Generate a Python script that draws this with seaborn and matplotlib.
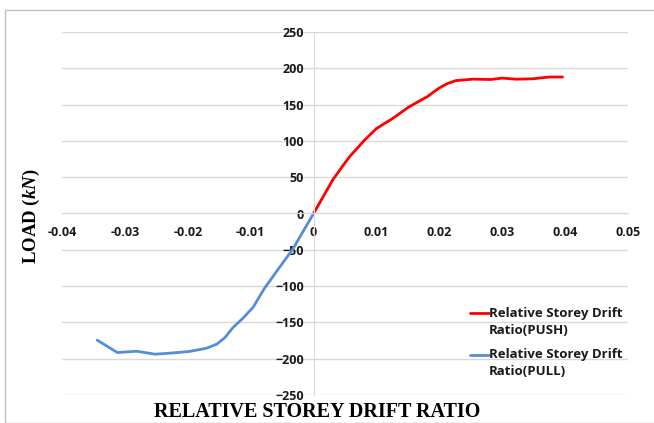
import pandas as pd
import numpy as np
import seaborn as sns
import matplotlib.pyplot as plt
from matplotlib.patches import Rectangle
from matplotlib.legend_handler import HandlerLine2D

# Push curve (drift ratio, load kN)
push_drift = [0.0, 0.0031, 0.0057, 0.0081, 0.0100, 0.0126, 0.0152, 0.0181,
              0.0200, 0.0213, 0.0226, 0.0253, 0.0282, 0.0300,
              0.0322, 0.0348, 0.0375, 0.0396]
push_load = [0, 47, 78, 101, 117, 131, 147, 161, 173, 179, 183, 185,
             184.6, 186.5, 185, 185.5, 188, 188]

# Pull curve
pull_drift = [0.0, -0.0033, -0.0054, -0.0078, -0.0096, -0.0112, -0.0128, -0.0141,
              -0.0154, -0.0170, -0.0197, -0.0223, -0.0252, -0.0281, -0.0312, -0.0344]
pull_load = [0, -49, -74, -103, -129, -144, -157, -171, -180, -185.5, -190, -192,
             -193.8, -189.7, -191.5, -174.5]

labels = ['Relative Storey Drift\nRatio(PUSH)', 'Relative Storey Drift\nRatio(PULL)']

df = pd.concat([
    pd.DataFrame({'drift': push_drift, 'load': push_load, 'series': labels[0]}),
    pd.DataFrame({'drift': pull_drift, 'load': pull_load, 'series': labels[1]}),
])

sns.set_style("white")
sans = ['Open Sans', 'DejaVu Sans']
plt.rcParams['font.family'] = sans
plt.rcParams['font.weight'] = 'bold'
plt.rcParams['text.color'] = 'black'
plt.rcParams['mathtext.fontset'] = 'custom'
plt.rcParams['mathtext.rm'] = 'Liberation Serif:bold'
plt.rcParams['mathtext.it'] = 'Liberation Serif:italic:bold'
plt.rcParams['mathtext.bf'] = 'Liberation Serif:bold'

fig = plt.figure(figsize=(6.54, 4.23), dpi=100)
ax = fig.add_axes([62/654, 1-395/423, (628-62)/654, (395-32)/423])

sns.lineplot(data=df, x='drift', y='load', hue='series', sort=False, ax=ax,
             palette=['#ff0000', '#558ed5'], linewidth=2, legend=False)

ax.set_xlim(-0.04, 0.05)
ax.set_ylim(-250, 250)
ax.set_xticks(np.arange(-0.04, 0.0501, 0.01))
ax.set_xticklabels(['-0.04', '-0.03', '-0.02', '-0.01', '0', '0.01', '0.02', '0.03', '0.04', '0.05'])
ax.set_yticks(np.arange(-250, 251, 50))
ax.yaxis.grid(True, color='#d9d9d9', linewidth=1)
ax.set_axisbelow(True)

for s in ['top', 'right']:
    ax.spines[s].set_visible(False)
ax.spines['left'].set_position(('data', 0))
ax.spines['bottom'].set_position(('data', 0))
ax.spines['left'].set_color('#d9d9d9')
ax.spines['bottom'].set_color('#d9d9d9')
ax.tick_params(axis='both', length=4, color='#d9d9d9', labelsize=9, pad=3,
               labelcolor='#1a1a1a')
ax.tick_params(axis='x', direction='out', pad=5)
for t in ax.get_xticklabels() + ax.get_yticklabels():
    t.set_fontweight('bold')
ax.set_xlabel('')
ax.set_ylabel('')


class TopLine(HandlerLine2D):
    # put the legend line level with the first text line
    def create_artists(self, legend, orig_handle, xdescent, ydescent, width, height, fontsize, trans):
        arts = super().create_artists(legend, orig_handle, xdescent, ydescent,
                                      width, height, fontsize, trans)
        for a in arts:
            a.set_ydata(np.asarray(a.get_ydata()) + 0.7 * fontsize)
        return arts


h1, = ax.plot([], [], color='#ff0000', linewidth=2)
h2, = ax.plot([], [], color='#558ed5', linewidth=2)
leg = ax.legend([h1, h2], labels, loc='upper left', bbox_to_anchor=(0.721, 0.242),
                frameon=False, handlelength=1.4, handletextpad=0.0, labelspacing=0.85,
                borderaxespad=0, borderpad=0,
                handler_map={h1: TopLine(), h2: TopLine()},
                prop={'family': sans, 'weight': 'bold', 'size': 9.5})
for t in leg.get_texts():
    t.set_color('#1a1a1a')
    t.set_linespacing(1.4)

fig.text(31/654, 1-216/423, r'LOAD $\mathit{(kN)}$', rotation=90, ha='center', va='center',
         family='Liberation Serif', fontweight='bold', fontsize=13.5)
fig.text(317/654, 1-412/423, 'RELATIVE STOREY DRIFT RATIO', ha='center', va='center',
         family='Liberation Serif', fontweight='bold', fontsize=14.5)

fig.patches.append(Rectangle((5/654, 0), 1, 1-10/423, transform=fig.transFigure,
                             fill=False, edgecolor='#bfbfbf', linewidth=1))

fig.savefig('out.png', dpi=100)
